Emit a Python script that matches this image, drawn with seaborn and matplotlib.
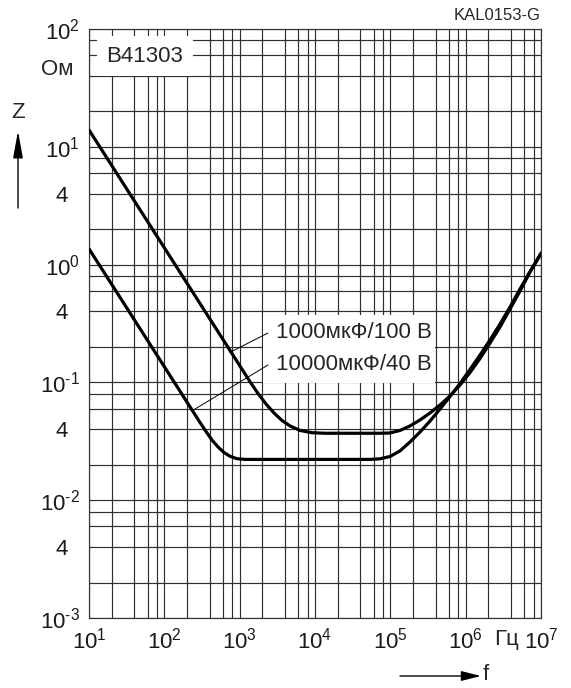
import numpy as np
import pandas as pd
import seaborn as sns
import matplotlib.pyplot as plt
from matplotlib.patches import Rectangle, FancyArrowPatch

# impedance curves (f in Hz, Z in Ohm)
f_1000 = [10, 1371, 1752, 2237, 2857, 3649, 4660, 6324, 9127, 13600, 72950, 99010,
          134400, 182500, 247700, 336300, 456500, 619700, 841400, 1.142e6,
          1.551e6, 2.106e6, 2.858e6, 3.880e6, 5.266e6, 7.151e6, 1.0e7]
z_1000 = [13.9, 0.1014, 0.0805, 0.0656, 0.0550, 0.0475, 0.0427, 0.0391, 0.0374, 0.0370,
          0.0370, 0.0372, 0.0391, 0.0427, 0.0480, 0.0550, 0.0643, 0.0767, 0.0950, 0.1213,
          0.1595, 0.2160, 0.2954, 0.4199, 0.5970, 0.8653, 1.254]

f_10000 = [10, 297.5, 357.5, 429.4, 515.9, 619.6, 744.6, 921.9, 1177, 53730, 72950,
           99010, 134400, 182500, 247700, 336300, 456500, 619700, 841400, 1.142e6,
           1.551e6, 2.106e6, 2.858e6, 3.880e6, 5.266e6, 7.151e6, 1.0e7]
z_10000 = [1.36, 0.0457, 0.0383, 0.0324, 0.0283, 0.0254, 0.0236, 0.0225, 0.0222, 0.0222,
           0.02245, 0.0235, 0.0262, 0.0312, 0.0379, 0.0470, 0.0594, 0.0759, 0.0979,
           0.1287, 0.1709, 0.2291, 0.3131, 0.4366, 0.6207, 0.8737, 1.230]

labels = ['1000мкФ/100 В', '10000мкФ/40 В']

y_major = [1e-3, 1e-2, 1e-1, 1e0, 1e1, 1e2]
y_major_labels = [r'$\mathregular{10^{\text{-}3}}$', r'$\mathregular{10^{\text{-}2}}$',
                  r'$\mathregular{10^{\text{-}1}}$', r'$\mathregular{10^{0}}$',
                  r'$\mathregular{10^{1}}$', r'$\mathregular{10^{2}}$']
x_major = [1e1, 1e2, 1e3, 1e4, 1e5, 1e6, 1e7]
x_major_labels = [r'$\mathregular{10^{%d}}$' % e for e in range(1, 8)]

df = pd.concat([
    pd.DataFrame({'f': f_1000, 'Z': z_1000, 'type': labels[0]}),
    pd.DataFrame({'f': f_10000, 'Z': z_10000, 'type': labels[1]}),
])

sns.set_theme(style='white')
plt.rcParams['font.family'] = ['Liberation Sans', 'DejaVu Sans']
plt.rcParams['mathtext.fontset'] = 'custom'
plt.rcParams['mathtext.rm'] = 'Liberation Sans'

W, H = 571, 688
fig = plt.figure(figsize=(W / 100, H / 100), dpi=100)
ax = fig.add_axes([89 / W, 1 - 618 / H, (541 - 89) / W, (618 - 29) / H])


def fp(x, y):
    # pixel position (from top-left) -> figure fraction
    return x / W, 1 - y / H


sns.lineplot(data=df, x='f', y='Z', hue='type', palette=['black', 'black'],
             estimator=None, linewidth=2.3, legend=False, ax=ax, zorder=3)
for line in ax.get_lines():
    line.set_solid_joinstyle('round')

ax.set_xscale('log')
ax.set_yscale('log')
ax.set_xlim(10, 1e7)
ax.set_ylim(1e-3, 1e2)

# grid at 1, 2, 4, 6, 8 of every decade
minor_mult = [2, 4, 6, 8]
x_minor = [m * 10.0 ** e for e in range(1, 7) for m in minor_mult]
y_minor = [m * 10.0 ** e for e in range(-3, 2) for m in minor_mult]
y_minor_labels = ['4' if (m == 4 and e < 1) else ''
                  for e in range(-3, 2) for m in minor_mult]

ax.set_xticks(x_major, labels=x_major_labels)
ax.set_xticks(x_minor, labels=[''] * len(x_minor), minor=True)
ax.set_yticks(y_major, labels=y_major_labels)
ax.set_yticks(y_minor, labels=y_minor_labels, minor=True)
ax.tick_params(which='both', length=0, labelsize=16, colors='#1a1a1a')
ax.tick_params(axis='y', which='major', pad=6.5)
ax.tick_params(axis='y', which='minor', pad=15)
ax.tick_params(axis='x', which='major', pad=7)
ax.set_axisbelow(True)
ax.grid(True, which='both', color='#2e2e2e', linewidth=0.85)
for s in ax.spines.values():
    s.set_color('#333333')
    s.set_linewidth(0.85)
ax.set_xlabel('')
ax.set_ylabel('')

# series box and labels
ax.text(0.124, 0.954, 'B41303', transform=ax.transAxes, fontsize=16,
        ha='center', va='center', zorder=4,
        bbox=dict(boxstyle='square,pad=0.42', fc='white', ec='none'))

ax.add_patch(Rectangle(fp(263, 383), 172 / W, 68 / H, transform=fig.transFigure,
                       facecolor='white', edgecolor='none', zorder=2.5, clip_on=False))
fig.text(*fp(276, 332), labels[0], fontsize=16, ha='left', va='center', zorder=4)
fig.text(*fp(276, 364), labels[1], fontsize=16, ha='left', va='center', zorder=4)

ax.annotate('', xy=(745, 0.18), xycoords='data', xytext=(268, H - 333),
            textcoords='figure pixels',
            arrowprops=dict(arrowstyle='-', lw=0.7, color='black', shrinkA=0, shrinkB=0))
ax.annotate('', xy=(240, 0.058), xycoords='data', xytext=(268, H - 365),
            textcoords='figure pixels',
            arrowprops=dict(arrowstyle='-', lw=0.7, color='black', shrinkA=0, shrinkB=0))

# units, axis names and arrows
fig.text(*fp(73, 69.5), 'Ом', fontsize=16, ha='right', va='center')
fig.text(*fp(507, 640), 'Гц', fontsize=16, ha='center', va='center')
fig.text(*fp(541, 16), 'KAL0153-G', fontsize=12, ha='right', va='center')
fig.text(*fp(18.5, 112), 'Z', fontsize=16, ha='center', va='center')
fig.text(*fp(483, 675), 'f', fontsize=16, ha='left', va='center')

fig.add_artist(FancyArrowPatch(
    fp(18, 208), fp(18, 131), transform=fig.transFigure,
    arrowstyle='-|>,head_length=1.1,head_width=0.2', mutation_scale=15,
    lw=1, color='black', shrinkA=0, shrinkB=0))
fig.add_artist(FancyArrowPatch(
    fp(400, 676), fp(481, 676), transform=fig.transFigure,
    arrowstyle='-|>,head_length=0.8,head_width=0.2', mutation_scale=15,
    lw=1, color='black', shrinkA=0, shrinkB=0))

fig.savefig('out.png', dpi=100)
